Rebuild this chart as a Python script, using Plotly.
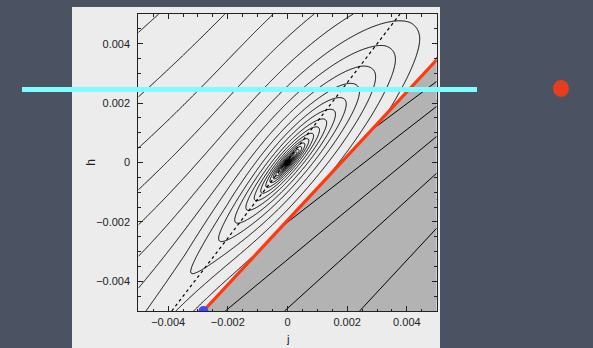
import numpy as np
import plotly.graph_objects as go

# ---------------- data ----------------
axis_range = [-0.005, 0.005]
tick_vals = [-0.004, -0.002, 0, 0.002, 0.004]
tick_text = ["\u22120.004", "\u22120.002", "0", "0.002", "0.004"]

# contour model parameters (j, h measured in units of 1e-3)
ridge_slope0 = 1.05          # slope of the valley ridge at the minimum
ridge_bend = 0.025           # ridge slope decreases with j
far_slope = 0.88             # slope of the straight contours in the upper left
blend_start = 0.8            # distance above ridge where straightening starts
blend_scale = 2.5
across_soft = 1.2            # across-valley growth softens beyond this distance
curv_along = 0.19            # curvature along the ridge
valley_floor = 1.5           # value the valley levels off at (toward lower left)
level_ratio = 1.5            # ratio between successive contour values
anchor_j, anchor_h = 4.43, 4.16   # right-most point of the outer ellipse
levels_below = 36
levels_above = 16

# red boundary line (end points)
red_j = [-0.00282, 0.005]
red_h = [-0.005, 0.00346]
# dashed line
dash_j = [-0.00388, 0.00377]
dash_h = [-0.005, 0.005]
# contour lines in the grey region: crossing on the right edge and slope
grey_right_h = [0.00273, 0.00189, 0.00088, -0.00036, -0.00221, -0.00457]
grey_slope = [0.75, 0.78, 0.83, 0.91, 1.08, 1.15]
# special points
min_j, min_h = [0.0], [0.0]
blue_j, blue_h = [-0.00282], [-0.005]

# ---------------- contour field ----------------
def field(J, H):
    J = np.asarray(J, float)
    H = np.asarray(H, float)
    m_r = ridge_slope0 - ridge_bend * J
    t = H - m_r * J
    blend = 1.0 - np.exp(-np.clip(t - blend_start, 0, None) / blend_scale)
    m = m_r - (m_r - far_slope) * blend
    u = H - m * J
    phi = u ** 2 / np.sqrt(1 + np.abs(u) / across_soft)
    P = np.where(J < 0,
                 valley_floor * (1 - np.exp(-curv_along * J ** 2 / valley_floor)),
                 curv_along * J ** 2)
    return np.log(phi + P)

g = np.linspace(-5.0, 5.0, 400)
J, H = np.meshgrid(g, g)
Z = field(J, H)
lev0 = float(field(anchor_j, anchor_h))
step = np.log(level_ratio)

fig = go.Figure()
fig.add_trace(go.Contour(
    x=g * 1e-3, y=g * 1e-3, z=np.round(Z, 4),
    autocontour=False,
    contours=dict(coloring="none", start=lev0 - levels_below * step,
                  end=lev0 + levels_above * step, size=step, showlabels=False),
    line=dict(color="black", width=1), showscale=False, hoverinfo="skip"))

# grey region below the red line
fig.add_trace(go.Scatter(
    x=[red_j[0], red_j[1], axis_range[1], red_j[0]],
    y=[red_h[0], red_h[1], axis_range[0], red_h[0]],
    fill="toself", fillcolor="#b3b3b3", line=dict(width=0), mode="lines",
    hoverinfo="skip"))

# grey region contour lines
sr = (red_h[1] - red_h[0]) / (red_j[1] - red_j[0])
gx, gy = [], []
for hr, s in zip(grey_right_h, grey_slope):
    j_red = (hr - s * axis_range[1] - red_h[0] + sr * red_j[0]) / (sr - s)
    j_bot = axis_range[1] + (axis_range[0] - hr) / s
    j0 = max(j_red, j_bot)
    gx += [j0, axis_range[1], None]
    gy += [hr + s * (j0 - axis_range[1]), hr, None]
fig.add_trace(go.Scatter(x=gx, y=gy, mode="lines",
                         line=dict(color="black", width=1), hoverinfo="skip"))

fig.add_trace(go.Scatter(x=dash_j, y=dash_h, mode="lines",
                         line=dict(color="black", width=1.2, dash="3px,3px"),
                         hoverinfo="skip"))
fig.add_trace(go.Scatter(x=red_j, y=red_h, mode="lines",
                         line=dict(color="#ff3a10", width=3.2), hoverinfo="skip"))
fig.add_trace(go.Scatter(x=blue_j, y=blue_h, mode="markers", cliponaxis=True,
                         marker=dict(color="#4646ff", size=10), hoverinfo="skip"))
fig.add_trace(go.Scatter(x=min_j, y=min_h, mode="markers",
                         marker=dict(color="black", size=6), hoverinfo="skip"))

W, Hh = 593, 348
font = "Liberation Sans, Arial, sans-serif"
axis_common = dict(
    range=axis_range, showline=True, linecolor="#222", linewidth=1,
    mirror="allticks", ticks="inside", ticklen=5, tickwidth=1, tickcolor="#222",
    tickvals=tick_vals, ticktext=tick_text, showgrid=False, zeroline=False,
    tickfont=dict(family=font, size=11, color="#222"),
    minor=dict(ticks="inside", ticklen=2.5, dtick=0.0005, tick0=0,
               tickcolor="#222", showgrid=False),
    fixedrange=True)

fig.update_layout(
    width=W, height=Hh, margin=dict(l=0, r=0, t=0, b=0),
    paper_bgcolor="#4b5362", plot_bgcolor="#f0f0f0", showlegend=False,
    xaxis=dict(domain=[138.3 / W, 436.7 / W], ticklabelstandoff=1, **axis_common),
    yaxis=dict(domain=[1 - 311 / Hh, 1 - 14 / Hh], ticklabelstandoff=5, **axis_common),
    shapes=[
        dict(type="rect", xref="paper", yref="paper", x0=72 / W, x1=440 / W,
             y0=0, y1=1 - 7 / Hh, fillcolor="#ececec", line=dict(width=0), layer="below"),
        dict(type="line", xref="paper", yref="paper", x0=22 / W, x1=477 / W,
             y0=1 - 89.5 / Hh, y1=1 - 89.5 / Hh, line=dict(color="#80fbff", width=5),
             layer="above"),
        dict(type="circle", xref="paper", yref="paper", x0=553 / W, x1=569 / W,
             y0=1 - 97 / Hh, y1=1 - 80 / Hh, fillcolor="#e53d1d",
             line=dict(width=0), layer="above"),
    ],
    annotations=[
        dict(text="j", x=287.5 / W, y=1 - 331.5 / Hh, xref="paper", yref="paper",
             yanchor="top", borderpad=0, showarrow=False,
             font=dict(family=font, size=11.5, color="#222")),
        dict(text="h", x=82 / W, y=1 - 162.7 / Hh, xref="paper", yref="paper",
             showarrow=False, textangle=-90, font=dict(family=font, size=12, color="#222")),
    ],
)

fig.write_html("out.html", config={"displayModeBar": False})
with open("out.html", encoding="utf-8") as f:
    html = f.read()
html = html.replace("<body>", '<body style="margin:0;overflow:hidden">', 1)
with open("out.html", "w", encoding="utf-8") as f:
    f.write(html)
